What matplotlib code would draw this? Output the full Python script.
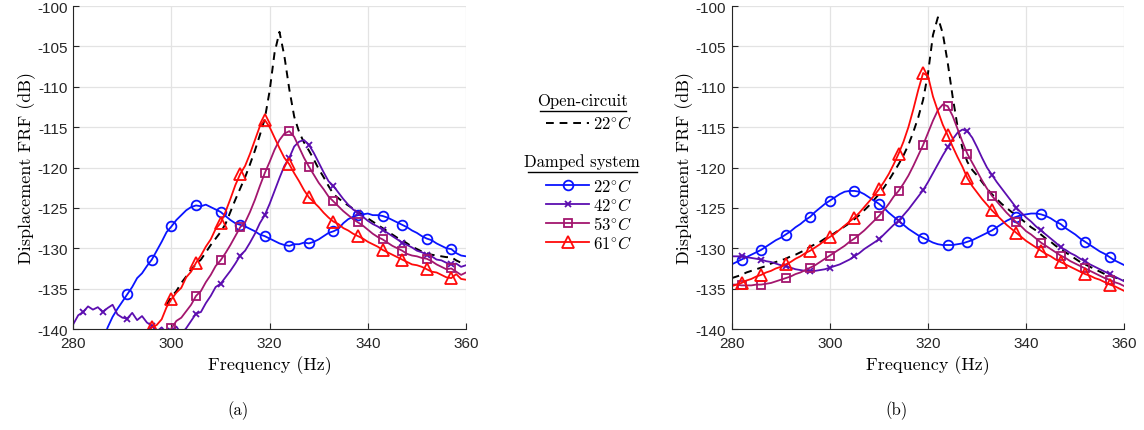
import numpy as np
import matplotlib
matplotlib.use("Agg")
import matplotlib.pyplot as plt

plt.rcParams['font.family'] = 'Liberation Sans'
plt.rcParams['mathtext.fontset'] = 'cm'
plt.rcParams['axes.unicode_minus'] = False

nan = np.nan
freq = np.arange(280, 361)  # Hz, 1 Hz step

# ---- (a) measured FRFs (dB) ----
meas_open = [nan] * 19 + [
    -137.0,
    -136.0, -135.3, -134.3, -133.5, -132.6, -132.0, -131.4, -130.5, -129.6, -128.8,
    -128.0, -127.0, -125.5, -124.0, -122.6, -121.2, -119.6, -117.9, -116.0, -114.0,
    -110.5, -105.8, -103.2, -106.2, -110.3, -113.7, -115.6, -116.9, -117.9, -119.0,
    -120.2, -121.2, -122.3, -123.3, -123.8, -124.3, -124.7, -125.1, -125.5, -125.9,
    -126.3, -126.7, -127.1, -127.5, -127.9, -128.3, -128.7, -129.0, -129.4, -129.8,
    -130.1, -130.4, -130.6, -130.8, -130.9, -131.0, -131.1, -131.1, -131.5, -131.8,
    -131.7]
meas_22 = [nan] * 6 + [
    -141.5, -139.8, -138.5, -137.5,
    -136.6, -135.7, -134.8, -133.7, -133.1, -132.2, -131.4, -130.3, -129.2, -128.0,
    -127.3, -126.5, -125.9, -125.3, -124.9, -124.7, -124.8, -124.6, -124.9, -125.2,
    -125.5, -126.0, -126.5, -126.9, -127.1, -127.3, -127.6, -127.9, -128.3, -128.5,
    -128.8, -129.1, -129.4, -129.6, -129.7, -129.5, -129.5, -129.3, -129.4, -129.2,
    -128.9, -128.5, -128.1, -127.9, -127.6, -126.9, -126.4, -126.1, -125.9, -125.8,
    -125.7, -125.9, -125.9, -126.0, -126.2, -126.5, -126.8, -127.1, -127.4, -127.8,
    -128.1, -128.5, -128.8, -129.0, -129.4, -129.7, -130.0, -130.1, -130.6, -130.9,
    -131.0]
meas_42 = [
    -139.4, -138.3, -137.9, -137.2, -137.6, -137.3, -137.9, -137.4, -137.0, -138.2,
    -138.6, -138.7, -138.0, -138.9, -138.4, -139.2, -139.6, -140.3, -139.8, -140.5,
    -140.2, -139.7, -140.6, -139.9, -139.0, -138.1, -137.9, -136.8, -135.9, -134.8,
    -134.4, -133.6, -132.8, -131.9, -130.9, -130.3, -129.3, -128.2, -126.9, -125.9,
    -124.5, -122.9, -121.3, -119.8, -118.8, -117.4, -116.8, -116.6, -117.2, -118.2,
    -119.4, -120.6, -121.7, -122.3, -123.1, -123.9, -124.6, -125.2, -125.6, -126.1,
    -126.6, -127.0, -127.3, -127.7, -128.1, -128.5, -128.9, -129.3, -129.6, -129.9,
    -130.3, -130.5, -130.8, -131.0, -131.4, -131.5, -131.8, -132.0, -131.9, -132.3,
    -132.1]
meas_53 = [nan] * 19 + [
    -141.0,
    -139.9, -139.0, -138.6, -137.8, -137.0, -135.9, -135.3, -134.2, -133.3, -132.2,
    -131.5, -130.6, -129.6, -128.5, -127.4, -126.8, -125.5, -124.0, -122.3, -120.7,
    -119.3, -117.8, -116.6, -115.8, -115.5, -116.2, -117.5, -118.8, -119.9, -120.9,
    -121.9, -122.7, -123.6, -124.2, -124.8, -125.4, -125.9, -126.4, -126.8, -127.2,
    -127.7, -128.2, -128.6, -128.9, -129.3, -129.7, -130.0, -130.3, -130.7, -130.9,
    -131.0, -131.2, -131.3, -131.6, -132.0, -132.3, -132.6, -132.5, -132.9, -133.3,
    -133.0]
meas_61 = [nan] * 15 + [
    -140.5, -139.8, -139.5, -138.8, -137.3,
    -136.3, -135.5, -134.9, -133.6, -132.9, -131.8, -130.9, -129.8, -128.9, -127.6,
    -126.9, -125.5, -123.9, -122.2, -120.8, -119.8, -118.3, -116.6, -114.9, -114.1,
    -115.0, -116.3, -117.6, -118.8, -119.6, -120.7, -121.7, -122.8, -123.7, -124.3,
    -124.9, -125.6, -126.2, -126.7, -127.0, -127.5, -127.8, -128.2, -128.5, -128.8,
    -129.2, -129.5, -129.8, -130.2, -130.5, -130.8, -131.1, -131.4, -131.7, -132.0,
    -132.1, -132.3, -132.6, -132.9, -133.0, -133.3, -133.6, -133.7, -133.2, -133.8,
    -133.9]

# ---- (b) model FRFs (dB) ----
mod_open = [
    -133.7, -133.5, -133.3, -133.0, -132.8, -132.6, -132.4, -132.2, -131.9, -131.7,
    -131.5, -131.3, -131.0, -130.8, -130.5, -130.2, -129.8, -129.5, -129.2, -128.8,
    -128.5, -128.1, -127.7, -127.3, -126.9, -126.4, -125.9, -125.3, -124.7, -124.0,
    -123.3, -122.5, -121.6, -120.6, -119.6, -118.5, -117.2, -115.6, -113.8, -111.6,
    -108.3, -103.6, -101.4, -103.4, -107.0, -111.2, -114.9, -117.6, -119.3, -120.3,
    -121.0, -121.8, -122.6, -123.3, -123.9, -124.5, -125.0, -125.5, -125.9, -126.4,
    -126.9, -127.4, -127.8, -128.3, -128.8, -129.2, -129.7, -130.1, -130.5, -130.9,
    -131.3, -131.7, -132.0, -132.3, -132.6, -132.9, -133.2, -133.4, -133.6, -133.8,
    -134.0]
mod_22 = [
    -132.0, -131.7, -131.4, -131.1, -130.8, -130.5, -130.2, -129.8, -129.4, -129.0,
    -128.7, -128.3, -127.9, -127.4, -127.0, -126.5, -126.1, -125.5, -125.0, -124.5,
    -124.1, -123.7, -123.3, -123.0, -122.9, -122.9, -123.0, -123.3, -123.7, -124.1,
    -124.5, -125.0, -125.6, -126.1, -126.6, -127.1, -127.6, -128.0, -128.4, -128.7,
    -129.0, -129.3, -129.5, -129.6, -129.6, -129.6, -129.5, -129.4, -129.2, -129.0,
    -128.7, -128.4, -128.1, -127.8, -127.4, -127.0, -126.6, -126.3, -126.1, -125.9,
    -125.8, -125.7, -125.7, -125.8, -126.0, -126.3, -126.7, -127.0, -127.5, -127.9,
    -128.3, -128.8, -129.2, -129.6, -130.0, -130.4, -130.7, -131.1, -131.5, -131.8,
    -132.1]
mod_42 = [
    -131.0, -131.0, -131.0, -131.1, -131.2, -131.3, -131.4, -131.6, -131.7, -131.9,
    -132.1, -132.2, -132.4, -132.6, -132.7, -132.8, -132.8, -132.8, -132.7, -132.6,
    -132.4, -132.2, -132.0, -131.7, -131.4, -131.0, -130.6, -130.1, -129.7, -129.3,
    -128.9, -128.3, -127.7, -127.1, -126.6, -125.9, -125.2, -124.4, -123.6, -122.8,
    -121.8, -120.7, -119.6, -118.5, -117.5, -116.5, -115.7, -115.3, -115.5, -116.3,
    -117.5, -118.8, -120.0, -120.9, -121.8, -122.6, -123.4, -124.2, -125.0, -125.6,
    -126.2, -126.7, -127.3, -127.8, -128.3, -128.8, -129.3, -129.9, -130.2, -130.6,
    -130.9, -131.3, -131.6, -132.0, -132.3, -132.6, -132.9, -133.2, -133.5, -133.8,
    -134.1]
mod_53 = [
    -134.5, -134.5, -134.6, -134.6, -134.6, -134.5, -134.5, -134.4, -134.3, -134.1,
    -133.9, -133.7, -133.5, -133.2, -133.0, -132.7, -132.4, -132.1, -131.7, -131.3,
    -130.9, -130.5, -130.1, -129.7, -129.2, -128.8, -128.3, -127.8, -127.2, -126.6,
    -126.0, -125.3, -124.5, -123.6, -122.9, -122.0, -121.0, -119.8, -118.5, -117.2,
    -115.7, -114.2, -112.9, -112.2, -112.4, -113.6, -115.2, -116.8, -118.3, -119.4,
    -120.5, -121.6, -122.6, -123.5, -124.2, -124.9, -125.6, -126.2, -126.8, -127.3,
    -127.9, -128.3, -128.8, -129.3, -129.7, -130.1, -130.5, -130.9, -131.2, -131.6,
    -131.9, -132.2, -132.5, -132.8, -133.1, -133.4, -133.7, -133.9, -134.2, -134.4,
    -134.7]
mod_61 = [
    -134.7, -134.5, -134.3, -134.0, -133.8, -133.5, -133.3, -133.0, -132.8, -132.5,
    -132.3, -132.0, -131.7, -131.3, -131.0, -130.6, -130.3, -129.9, -129.5, -129.0,
    -128.6, -128.2, -127.7, -127.2, -126.7, -126.2, -125.6, -124.9, -124.2, -123.5,
    -122.7, -121.8, -120.8, -119.6, -118.3, -116.8, -115.0, -112.8, -110.4, -108.3,
    -108.7, -111.2, -113.0, -114.7, -116.0, -117.4, -118.7, -119.9, -121.3, -122.3,
    -123.1, -123.9, -124.6, -125.3, -125.9, -126.5, -127.1, -127.6, -128.1, -128.6,
    -129.1, -129.5, -129.9, -130.3, -130.7, -131.0, -131.4, -131.7, -132.0, -132.3,
    -132.6, -132.9, -133.2, -133.4, -133.7, -133.9, -134.2, -134.5, -134.7, -135.0,
    -135.3]

temps = ['$22^{\\circ}C$', '$42^{\\circ}C$', '$53^{\\circ}C$', '$61^{\\circ}C$']
colors = ['#0a14ff', '#5c0eb0', '#a3166e', '#ff0a0a']
markers = ['o', 'x', 's', '^']
msizes = [7, 5, 6, 8]
mark_idx = [2, 6, 11, 16, 20, 25, 30, 34, 39, 44, 48, 53, 58, 63, 67, 72, 77]

serif = 'cmr10'
W, H = 1144, 431
fig = plt.figure(figsize=(W / 100, H / 100), dpi=100)
ax_a = fig.add_axes([73.3 / W, 101 / H, 392.7 / W, 323 / H])
ax_b = fig.add_axes([731.7 / W, 101 / H, 392.7 / W, 323 / H])

panels = [(ax_a, meas_open, [meas_22, meas_42, meas_53, meas_61], '(a)'),
          (ax_b, mod_open, [mod_22, mod_42, mod_53, mod_61], '(b)')]

handles = []
for ax, opn, damped, cap in panels:
    ax.grid(True, color='#e3e3e3', lw=0.9)
    ax.set_axisbelow(True)
    h_open, = ax.plot(freq, opn, '--', color='k', lw=1.4, dashes=(4, 3))
    hs = []
    for vals, c, m, ms in zip(damped, colors, markers, msizes):
        h, = ax.plot(freq, vals, color=c, lw=1.3, marker=m, ms=ms,
                     mfc='none', mec=c, mew=1.3, markevery=mark_idx)
        hs.append(h)
    handles = [h_open] + hs
    ax.set_xlim(280, 360)
    ax.set_ylim(-140, -100)
    ax.set_xticks(np.arange(280, 361, 20))
    ax.set_yticks(np.arange(-140, -99, 5))
    ax.tick_params(direction='in', length=4, width=0.8, color='#262626',
                   labelsize=11, labelcolor='#262626')
    ax.tick_params(axis='x', pad=5)
    ax.tick_params(axis='y', pad=4)
    for s in ['top', 'right']:
        ax.spines[s].set_visible(False)
    for s in ['left', 'bottom']:
        ax.spines[s].set_color('#262626')
        ax.spines[s].set_linewidth(0.8)
    ax.set_xlabel('Frequency (Hz)', family=serif, fontsize=13, labelpad=4)
    ax.set_ylabel('Displacement FRF (dB)', family=serif, fontsize=13, labelpad=1)
    ax.text(0.42, -0.25, cap, transform=ax.transAxes, family=serif,
            fontsize=12, ha='center', va='center')

# legend: group headings with underline, then entries
xc = 582 / W
for title, yt, (xl, xr) in [('Open-circuit', 101, (540, 626)),
                            ('Damped system', 162, (528, 637))]:
    fig.text(xc, 1 - yt / H, title, family=serif, fontsize=12,
             ha='center', va='center')
    fig.add_artist(plt.Line2D([xl / W, xr / W], [1 - (yt + 10.5) / H] * 2,
                              color='k', lw=1.0, transform=fig.transFigure))

fig.legend([handles[0]], ['$22^{\\circ}C$'], loc='center left',
           bbox_to_anchor=(546 / W, 1 - 124 / H), frameon=False,
           handlelength=2.6, handletextpad=0.2, fontsize=12,
           borderpad=0, borderaxespad=0)
fig.legend(handles[1:], temps, loc='center left',
           bbox_to_anchor=(546 / W, 1 - 215 / H), frameon=False,
           handlelength=2.6, handletextpad=0.2, labelspacing=0.12,
           fontsize=12, borderpad=0, borderaxespad=0)

fig.savefig('out.png', dpi=100)
